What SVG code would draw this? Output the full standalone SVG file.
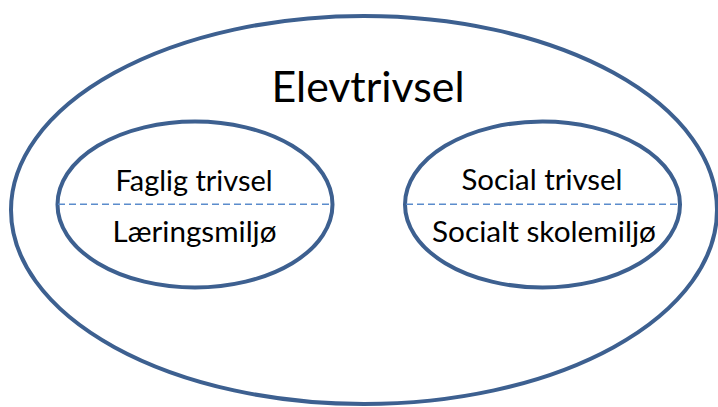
<svg xmlns="http://www.w3.org/2000/svg" width="718" height="407" viewBox="0 0 718 407">
<style>
.ell{fill:none;stroke:#3d6090;stroke-width:4}
.dash{stroke:#5b8ccc;stroke-width:1.6;stroke-dasharray:7 4;fill:none}
.t{font-family:Lato,"Open Sans","Liberation Sans",sans-serif;fill:#000;text-anchor:middle}
.big{font-size:43px}
.sm{font-size:28px}
</style>
<rect width="718" height="407" fill="#fff"/>
<g id="elevtrivsel">
<ellipse class="ell" cx="364" cy="210" rx="353" ry="194"/>
<text class="t big" x="368" y="101.5" textLength="193" lengthAdjust="spacingAndGlyphs">Elevtrivsel</text>
</g>
<g id="faglig">
<ellipse class="ell" cx="195" cy="204.5" rx="137.5" ry="83"/>
<text class="t sm" x="194" y="191" textLength="157" lengthAdjust="spacingAndGlyphs">Faglig trivsel</text>
<text class="t sm" x="194.5" y="241.5" textLength="164" lengthAdjust="spacingAndGlyphs">Læringsmiljø</text>
</g>
<g id="social">
<ellipse class="ell" cx="542.5" cy="204.5" rx="137.5" ry="83"/>
<text class="t sm" x="542" y="190" textLength="161" lengthAdjust="spacingAndGlyphs">Social trivsel</text>
<text class="t sm" x="544" y="241.5" textLength="224" lengthAdjust="spacingAndGlyphs">Socialt skolemiljø</text>
</g>
<g id="connectors">
<line class="dash" x1="58" y1="204.3" x2="332" y2="204.3"/>
<line class="dash" x1="406" y1="204.3" x2="679" y2="204.3"/>
</g>
</svg>
